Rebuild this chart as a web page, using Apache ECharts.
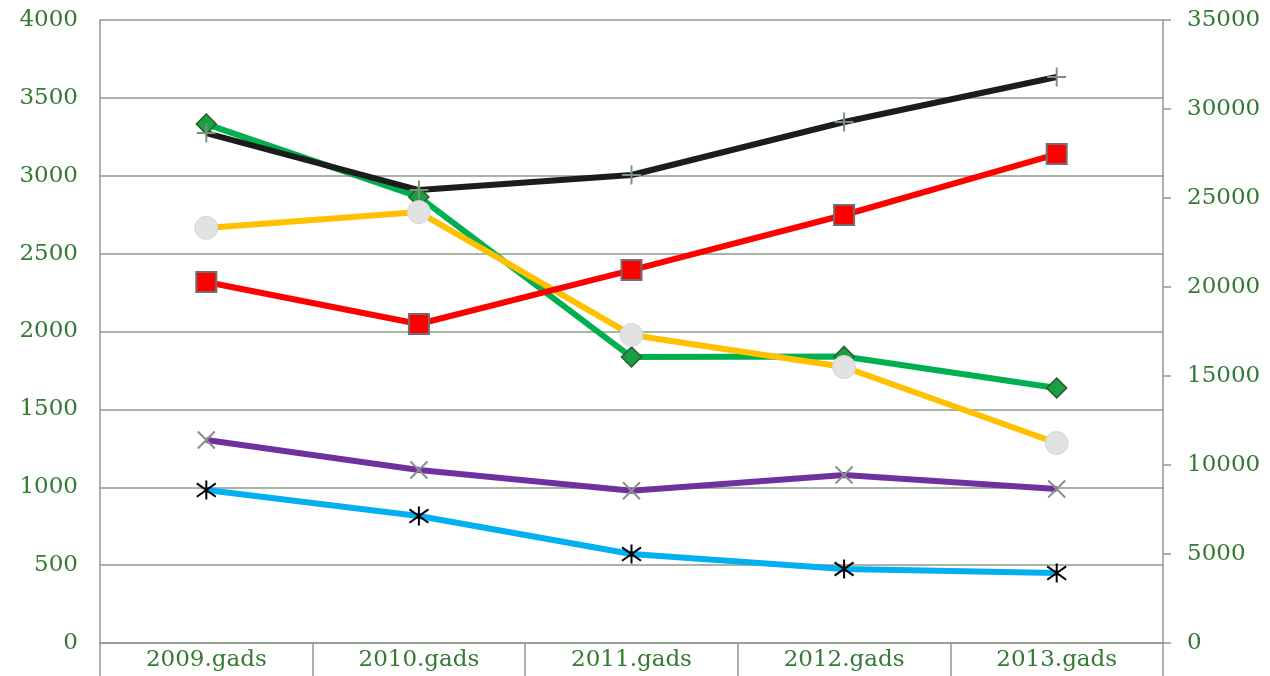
<!DOCTYPE html>
<html>
<head>
<meta charset="utf-8">
<script src="https://cdn.jsdelivr.net/npm/echarts@6/dist/echarts.min.js"></script>
<style>
html, body { margin: 0; padding: 0; background: #fff; }
#main { width: 1270px; height: 676px; }
</style>
</head>
<body>
<div id="main"></div>
<script>
// data
var years = ['2009.gads', '2010.gads', '2011.gads', '2012.gads', '2013.gads'];
var blackVals = [3274, 2908, 3005, 3345, 3634];
var greenVals = [3332, 2864, 1836, 1840, 1637];
var yellowVals = [2665, 2767, 1978, 1772, 1284];
var redVals = [20280, 17920, 20950, 24045, 27470];   // right axis
var purpleVals = [1303, 1111, 978, 1079, 989];
var cyanVals = [982, 815, 571, 475, 449];

var textColor = '#337a33';
var rule = '#8d9b8a';
var font = 'DejaVu Serif';

var plusPath = 'path://M0,5L10,5M5,0L5,10';
var crossPath = 'path://M0,0L10,10M0,10L10,0';
var starPath = 'path://M5,0L5,10M1,1.5L9,8.5M1,8.5L9,1.5';

var myChart = echarts.init(document.getElementById('main'));

function plainNum(v) {
    return String(v);
}

function lineSeries(name, data, color, extra) {
    var s = {
        name: name,
        type: 'line',
        data: data,
        showAllSymbol: true,
        lineStyle: { color: color, width: 6 },
        emphasis: { disabled: true }
    };
    for (var k in extra) s[k] = extra[k];
    return s;
}

var option = {
    animation: false,
    grid: { left: 100, right: 107, top: 20, bottom: 33 },
    xAxis: {
        type: 'category',
        data: years,
        boundaryGap: true,
        axisLine: { lineStyle: { color: rule, width: 1.5 } },
        axisTick: { show: true, interval: 0, length: 33, lineStyle: { color: rule, width: 1.5 } },
        axisLabel: { color: textColor, fontFamily: font, fontSize: 23, margin: 6 }
    },
    yAxis: [
        {
            type: 'value',
            min: 0,
            max: 4000,
            interval: 500,
            axisLine: { show: true, lineStyle: { color: rule, width: 1.5 } },
            axisTick: { show: false },
            splitLine: { lineStyle: { color: rule, width: 1.5 } },
            axisLabel: { color: textColor, fontFamily: font, fontSize: 23, margin: 22, formatter: plainNum, padding: [4, 0, 0, 0] }
        },
        {
            type: 'value',
            min: 0,
            max: 35000,
            interval: 5000,
            position: 'right',
            axisLine: { show: true, lineStyle: { color: rule, width: 1.5 } },
            axisTick: { show: true, length: 8, lineStyle: { color: rule, width: 1.5 } },
            splitLine: { show: false },
            axisLabel: { color: textColor, fontFamily: font, fontSize: 23, margin: 24, formatter: plainNum, padding: [4, 0, 0, 0] }
        }
    ],
    series: [
        lineSeries('zaļā', greenVals, '#00b050', {
            symbol: 'diamond', symbolSize: 20,
            itemStyle: { color: '#1c9e45', borderColor: '#2d5a2d', borderWidth: 1.5 }
        }),
        lineSeries('melnā', blackVals, '#1c1c1c', {
            symbol: plusPath, symbolSize: 19,
            itemStyle: { color: 'rgba(0,0,0,0)', borderColor: '#7d8f7d', borderWidth: 2 }
        }),
        lineSeries('dzeltenā', yellowVals, '#ffc000', {
            symbol: 'circle', symbolSize: 23,
            itemStyle: { color: '#e2e2e2', borderColor: '#d4d4d4', borderWidth: 1 }
        }),
        lineSeries('sarkanā', redVals, '#ff0000', {
            yAxisIndex: 1,
            symbol: 'rect', symbolSize: 20,
            itemStyle: { color: '#ff0000', borderColor: '#6f6f6f', borderWidth: 2 }
        }),
        lineSeries('violetā', purpleVals, '#7030a0', {
            symbol: crossPath, symbolSize: 17,
            itemStyle: { color: 'rgba(0,0,0,0)', borderColor: '#8e8e8e', borderWidth: 2 }
        }),
        lineSeries('zilā', cyanVals, '#00b0f0', {
            symbol: starPath, symbolSize: 19,
            itemStyle: { color: 'rgba(0,0,0,0)', borderColor: '#000000', borderWidth: 2 }
        })
    ]
};
myChart.setOption(option);
</script>
</body>
</html>
